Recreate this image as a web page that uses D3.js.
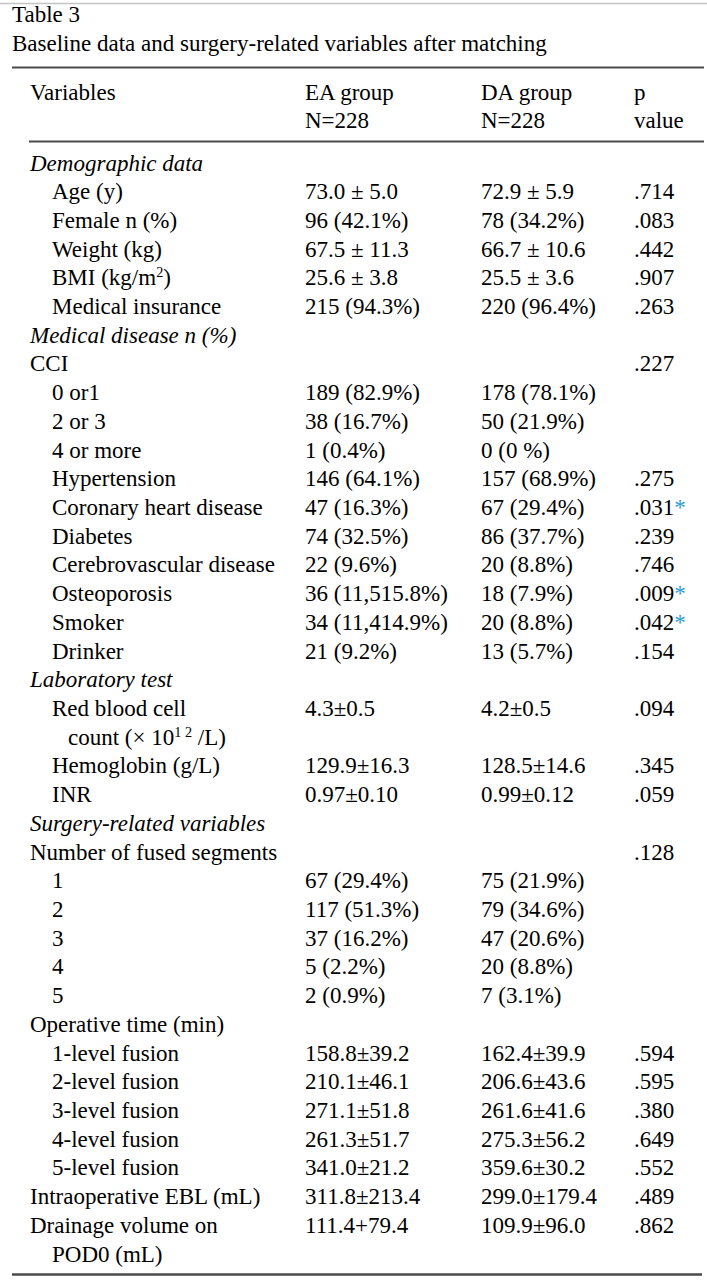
<!DOCTYPE html>
<html>
<head>
<meta charset="utf-8">
<script src="https://cdn.jsdelivr.net/npm/d3@7"></script>
<style>
  html, body { margin: 0; padding: 0; background: #fff; }
  svg { display: block; }
  text { font-family: "Liberation Serif", "Times New Roman", serif; fill: #000; }
</style>
</head>
<body>
<svg id="chart" width="707" height="1280"></svg>
<script>
const tableNumber = "Table 3";
const tableTitle = "Baseline data and surgery-related variables after matching";
const columnHeads = [["Variables"], ["EA group", "N=228"], ["DA group", "N=228"], ["p", "value"]];

const rowLabels = [
  "Demographic data", "Age (y)", "Female n (%)", "Weight (kg)", "BMI (kg/m^{2})", "Medical insurance",
  "Medical disease n (%)", "CCI", "0 or1", "2 or 3", "4 or more", "Hypertension",
  "Coronary heart disease", "Diabetes", "Cerebrovascular disease", "Osteoporosis", "Smoker", "Drinker",
  "Laboratory test", "Red blood cell", "count (× 10^{1 2} /L)", "Hemoglobin (g/L)", "INR",
  "Surgery-related variables", "Number of fused segments", "1", "2", "3", "4", "5",
  "Operative time (min)", "1-level fusion", "2-level fusion", "3-level fusion", "4-level fusion", "5-level fusion",
  "Intraoperative EBL (mL)", "Drainage volume on", "POD0 (mL)"
];
// row kind: section (italic heading), top (plain heading), item (indented), cont (continuation line)
const rowKinds = [
  "section", "item", "item", "item", "item", "item",
  "section", "top", "item", "item", "item", "item",
  "item", "item", "item", "item", "item", "item",
  "section", "item", "cont", "item", "item",
  "section", "top", "item", "item", "item", "item", "item",
  "top", "item", "item", "item", "item", "item",
  "top", "top", "item"
];
const eaValues = [
  "", "73.0 ± 5.0", "96 (42.1%)", "67.5 ± 11.3", "25.6 ± 3.8", "215 (94.3%)",
  "", "", "189 (82.9%)", "38 (16.7%)", "1 (0.4%)", "146 (64.1%)",
  "47 (16.3%)", "74 (32.5%)", "22 (9.6%)", "36 (11,515.8%)", "34 (11,414.9%)", "21 (9.2%)",
  "", "4.3±0.5", "", "129.9±16.3", "0.97±0.10",
  "", "", "67 (29.4%)", "117 (51.3%)", "37 (16.2%)", "5 (2.2%)", "2 (0.9%)",
  "", "158.8±39.2", "210.1±46.1", "271.1±51.8", "261.3±51.7", "341.0±21.2",
  "311.8±213.4", "111.4+79.4", ""
];
const daValues = [
  "", "72.9 ± 5.9", "78 (34.2%)", "66.7 ± 10.6", "25.5 ± 3.6", "220 (96.4%)",
  "", "", "178 (78.1%)", "50 (21.9%)", "0 (0 %)", "157 (68.9%)",
  "67 (29.4%)", "86 (37.7%)", "20 (8.8%)", "18 (7.9%)", "20 (8.8%)", "13 (5.7%)",
  "", "4.2±0.5", "", "128.5±14.6", "0.99±0.12",
  "", "", "75 (21.9%)", "79 (34.6%)", "47 (20.6%)", "20 (8.8%)", "7 (3.1%)",
  "", "162.4±39.9", "206.6±43.6", "261.6±41.6", "275.3±56.2", "359.6±30.2",
  "299.0±179.4", "109.9±96.0", ""
];
const pValues = [
  "", ".714", ".083", ".442", ".907", ".263",
  "", ".227", "", "", "", ".275",
  ".031*", ".239", ".746", ".009*", ".042*", ".154",
  "", ".094", "", ".345", ".059",
  "", ".128", "", "", "", "", "",
  "", ".594", ".595", ".380", ".649", ".552",
  ".489", ".862", ""
];

const svg = d3.select("#chart");
const W = 707, H = 1280;
const FS = 23;

svg.append("rect").attr("width", W).attr("height", H).attr("fill", "#fff");
// faint top border of the scanned page
svg.append("line").attr("x1", 0).attr("x2", W).attr("y1", 3.5).attr("y2", 3.5)
  .attr("stroke", "#c4c4c4").attr("stroke-width", 1.5);

svg.append("text").attr("x", 12).attr("y", 22).attr("font-size", FS).text(tableNumber);
svg.append("text").attr("x", 12).attr("y", 51).attr("font-size", FS).text(tableTitle);

const colX = d3.scaleOrdinal().domain(["label", "ea", "da", "p"]).range([30, 305, 481, 634]);
const indentX = d3.scaleOrdinal().domain(["section", "top", "item", "cont"]).range([0, 0, 22, 38]);

// header rules
svg.append("line").attr("x1", 12).attr("x2", 704).attr("y1", 67.5).attr("y2", 67.5)
  .attr("stroke", "#4a4a4a").attr("stroke-width", 2);
svg.append("line").attr("x1", 29).attr("x2", 704).attr("y1", 141.5).attr("y2", 141.5)
  .attr("stroke", "#4a4a4a").attr("stroke-width", 2);
svg.append("line").attr("x1", 12).attr("x2", 702).attr("y1", 1274.5).attr("y2", 1274.5)
  .attr("stroke", "#4a4a4a").attr("stroke-width", 2.5);

const headY = d3.scalePoint().domain([0, 1]).range([100, 128]);
["label", "ea", "da", "p"].forEach((c, i) => {
  columnHeads[i].forEach((t, j) => {
    svg.append("text").attr("x", colX(c)).attr("y", headY(j)).attr("font-size", FS).text(t);
  });
});

const y = d3.scalePoint().domain(d3.range(rowLabels.length)).range([163, 1254]);

function addRich(sel, str) {
  const parts = str.split(/\^\{([^}]*)\}/);
  parts.forEach((p, k) => {
    if (!p) return;
    if (k % 2 === 1) {
      sel.append("tspan").attr("baseline-shift", "super").attr("font-size", FS * 0.62).text(p);
    } else {
      sel.append("tspan").text(p);
    }
  });
}

const rows = svg.append("g").selectAll("g").data(rowLabels.map((l, i) => i)).join("g")
  .attr("transform", i => `translate(0,${y(i) + 7.5})`);

rows.append("text")
  .attr("x", i => colX("label") + indentX(rowKinds[i]))
  .attr("font-size", FS)
  .attr("font-style", i => rowKinds[i] === "section" ? "italic" : "normal")
  .each(function(i) { addRich(d3.select(this), rowLabels[i]); });

rows.append("text").attr("x", colX("ea")).attr("font-size", FS).text(i => eaValues[i]);
rows.append("text").attr("x", colX("da")).attr("font-size", FS).text(i => daValues[i]);
rows.append("text").attr("x", colX("p")).attr("font-size", FS)
  .each(function(i) {
    const v = pValues[i];
    const t = d3.select(this);
    const star = v.endsWith("*");
    t.append("tspan").text(star ? v.slice(0, -1) : v);
    if (star) t.append("tspan").attr("fill", "#2a9ad2").text("*");
  });
</script>
</body>
</html>
